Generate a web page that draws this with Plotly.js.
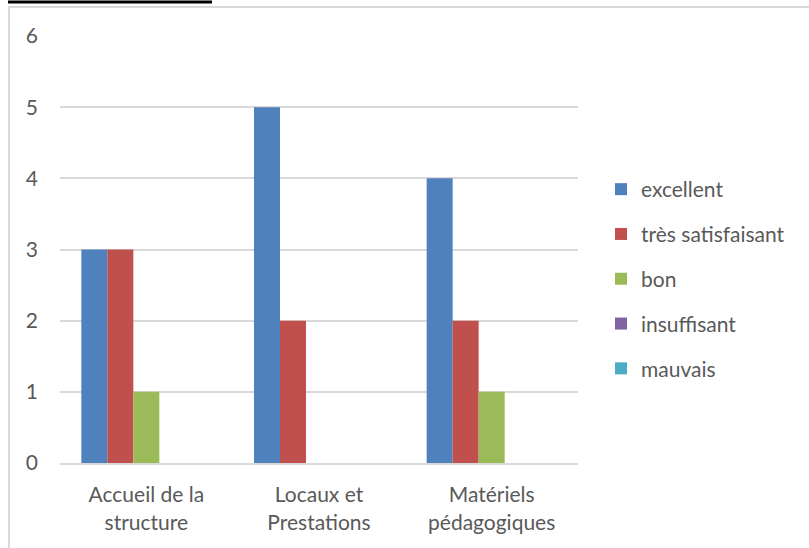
<!DOCTYPE html>
<html><head><meta charset="utf-8">
<script src="https://cdn.plot.ly/plotly-3.0.1.min.js"></script>
<style>html,body{margin:0;padding:0;background:#fff;}#chart{width:809px;height:548px;}</style>
</head><body><div id="chart"></div>
<script>
var categories = ["Accueil de la<br>structure", "Locaux et<br>Prestations", "Matériels<br>pédagogiques"];
var seriesNames = ["excellent", "très satisfaisant", "bon", "insuffisant", "mauvais"];
var excellent = [3, 5, 4];
var tresSatisfaisant = [3, 2, 2];
var bon = [1, 0, 1];
var insuffisant = [0, 0, 0];
var mauvais = [0, 0, 0];
var colors = ["#4f81bd", "#c0504d", "#9bbb59", "#8064a2", "#4bacc6"];
var values = [excellent, tresSatisfaisant, bon, insuffisant, mauvais];

var W = 809, H = 548, L = 60, R = 231, T = 36, B = 85;
var pw = W - L - R, ph = H - T - B;
function px(x){ return (x - L) / pw; }
function py(y){ return (H - B - y) / ph; }

var traces = values.map(function(v, i){
  return {type: "bar", x: categories, y: v, name: seriesNames[i],
    marker: {color: colors[i]}, legendgroup: "g" + i, hoverinfo: "y"};
});

var FS = 21;
var layout = {
  width: W, height: H,
  margin: {l: L, r: R, t: T, b: B, pad: 0},
  paper_bgcolor: "#fff", plot_bgcolor: "#fff",
  font: {family: "Lato, 'Open Sans', sans-serif", size: FS, color: "#595959"},
  barmode: "group", bargap: 0.247, bargroupgap: 0,
  showlegend: true,
  legend: {x: px(601), y: py(169), xanchor: "left", yanchor: "top",
    font: {size: FS, color: "#595959"}, tracegroupgap: 14.5, itemwidth: 30,
    bgcolor: "rgba(0,0,0,0)"},
  xaxis: {showgrid: false, showline: true, linecolor: "#d9d9d9", linewidth: 2,
    ticks: "", ticklabelstandoff: 12, tickfont: {size: FS, color: "#595959"}, fixedrange: true},
  yaxis: {range: [0, 6], dtick: 1, showgrid: true, gridcolor: "#d9d9d9", gridwidth: 2,
    zeroline: false, showline: false, ticks: "", ticklabelstandoff: 21,
    tickfont: {size: FS, color: "#595959"}, fixedrange: true},
  shapes: [
    {type: "line", xref: "paper", yref: "paper", x0: px(9), x1: px(9), y0: py(6), y1: py(560),
      line: {color: "#d9d9d9", width: 2}},
    {type: "line", xref: "paper", yref: "paper", x0: px(9), x1: px(820), y0: py(7), y1: py(7),
      line: {color: "#d9d9d9", width: 2}},
    {type: "line", xref: "paper", yref: "paper", x0: px(8), x1: px(212), y0: py(2), y1: py(2),
      line: {color: "#000", width: 3}}
  ]
};
Plotly.newPlot("chart", traces, layout, {displayModeBar: false, staticPlot: true});
</script></body></html>
